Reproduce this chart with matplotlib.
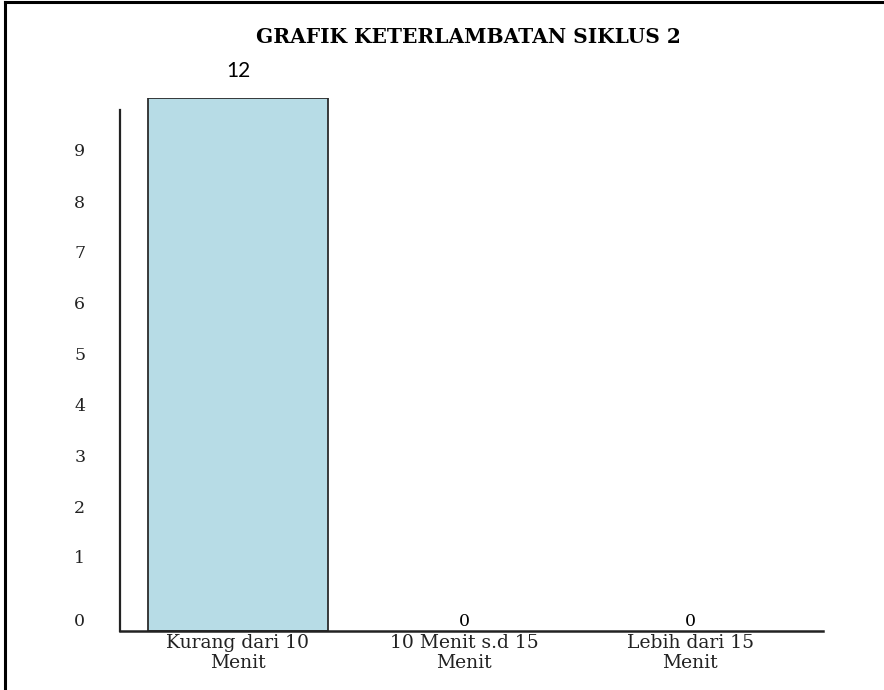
import matplotlib
matplotlib.use("Agg")
import matplotlib.pyplot as plt
from matplotlib.lines import Line2D

categories = ["Kurang dari 10\nMenit", "10 Menit s.d 15\nMenit", "Lebih dari 15\nMenit"]
values = [12, 0, 0]
ytick_labels = ["0", "1", "2", "3", "4", "5", "6", "7", "8", "9"]
ytick_pos = [0.27, 1.67, 2.81, 3.96, 5.10, 6.25, 7.39, 8.54, 9.68, 10.83]
title = "GRAFIK KETERLAMBATAN SIKLUS 2"

W, H = 884, 690
fig = plt.figure(figsize=(W / 100, H / 100), dpi=100)

def fx(px):
    return px / W

def fy(py):
    return 1 - py / H

ax = fig.add_axes([fx(120), fy(631), fx(823) - fx(120), fy(98) - fy(631)])
xs = [0, 1, 2]
ax.bar(xs, values, width=0.8, color="#b7dce6",
       edgecolor=["#2b2b2b" if v > 0 else "none" for v in values],
       linewidth=1.3, zorder=2)
ax.set_xlim(-0.522, 2.588)
ax.set_ylim(0, 12)

for s in ["top", "right"]:
    ax.spines[s].set_visible(False)
ax.spines["left"].set_bounds(0, 11.73)
ax.spines["left"].set_linewidth(1.6)
ax.spines["bottom"].set_linewidth(1.8)
ax.spines["left"].set_color("#222222")
ax.spines["bottom"].set_color("#222222")
for s in ax.spines.values():
    s.set_zorder(3)

serif = ["DejaVu Serif"]
ax.set_xticks(xs)
ax.set_xticklabels(categories, fontfamily=serif, fontsize=13.5, linespacing=1.1)
ax.set_yticks(ytick_pos)
ax.set_yticklabels(ytick_labels, fontfamily=serif, fontsize=12.5)
ax.tick_params(axis="both", length=0, colors="#222222")
ax.tick_params(axis="y", pad=25)
ax.tick_params(axis="x", pad=2.5)

for x, v in zip(xs, values):
    if v > 0:
        ax.annotate(str(v), (x, v), xytext=(0, 12), textcoords="offset points",
                    ha="center", va="bottom", fontsize=15, fontfamily=["Lato", "DejaVu Sans"])
    else:
        ax.annotate(str(v), (x, v), xytext=(0, 1), textcoords="offset points",
                    ha="center", va="bottom", fontsize=12.5, fontfamily=serif)

fig.text(fx(468), fy(37), title, ha="center", va="center", fontsize=14.5,
         fontweight="bold", fontfamily=serif)

# figure border (left and top)
fig.add_artist(Line2D([fx(5), fx(5)], [0, fy(2)], color="black", linewidth=2.2))
fig.add_artist(Line2D([fx(5), 1], [fy(2), fy(2)], color="black", linewidth=2.2))

fig.savefig("out.png", dpi=100)
